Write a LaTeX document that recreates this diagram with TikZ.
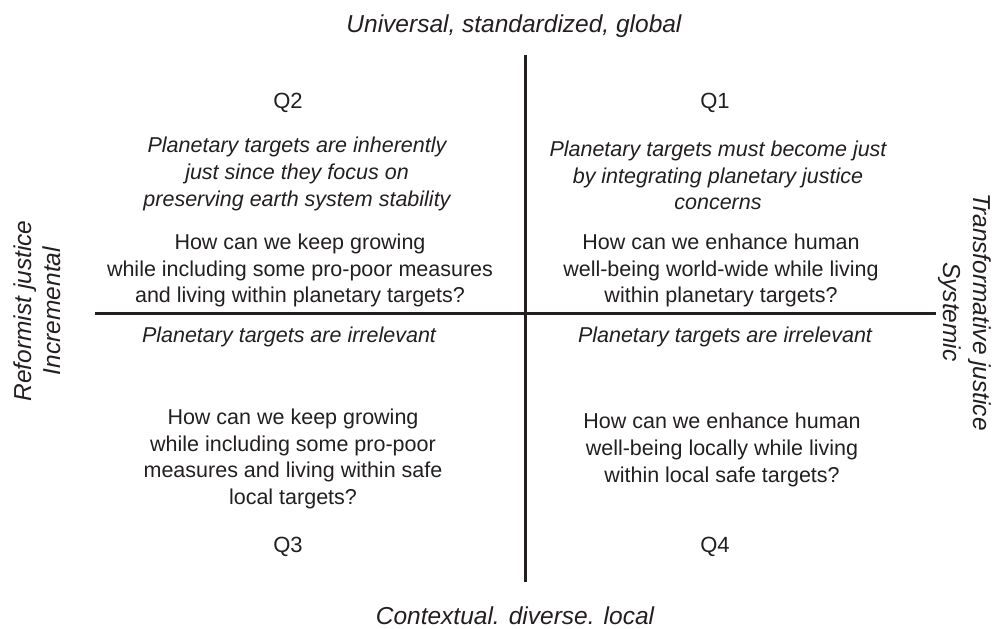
\documentclass[tikz,border=0pt]{standalone}
\usepackage{fontspec}
\setmainfont{Liberation Sans}
\definecolor{ink}{HTML}{231F20}
\begin{document}
\begin{tikzpicture}[x=1pt,y=-1pt,
  qtext/.style={align=center,inner sep=0pt,text=ink,font=\fontsize{21.5}{26.6}\selectfont},
  qital/.style={qtext,font=\fontsize{21.5}{26.6}\selectfont\itshape},
  qlabel/.style={inner sep=0pt,text=ink,font=\fontsize{22}{26}\selectfont},
  axislabel/.style={align=center,inner sep=0pt,text=ink,font=\fontsize{24.5}{29.5}\selectfont\itshape},
  axisline/.style={draw=ink,line width=3pt}]
\useasboundingbox (0,0) rectangle (996,629);
% axes
\coordinate (hl) at (95,313);
\coordinate (hr) at (936,313);
\coordinate (vt) at (525,55);
\coordinate (vb) at (525,582);
\draw[axisline] (hl) -- (hr);
\draw[axisline] (vt) -- (vb);
% axis labels
\node[axislabel] (top) at (514,26.5) {Universal, standardized, global};
\node[axislabel] (bottom) at (515,615.5) {Contextual. diverse. local};
\node[axislabel,rotate=90] (left) at (37,311) {Reformist justice\\Incremental};
\node[axislabel,rotate=-90] (right) at (965,312) {Transformative justice\\Systemic};
% quadrant labels
\node[qlabel] (q2) at (288,102.5) {Q2};
\node[qlabel] (q1) at (715,102.5) {Q1};
\node[qlabel] (q3) at (288,547) {Q3};
\node[qlabel] (q4) at (715,547) {Q4};
% Q2
\node[qital] (q2i) at (297,174) {Planetary targets are inherently\\just since they focus on\\preserving earth system stability};
\node[qtext] (q2q) at (300,270.5) {How can we keep growing\\while including some pro-poor measures\\and living within planetary targets?};
% Q1
\node[qital] (q1i) at (718,175.5) {Planetary targets must become just\\by integrating planetary justice\\concerns};
\node[qtext] (q1q) at (721,270.5) {How can we enhance human\\well-being world-wide while living\\within planetary targets?};
% Q3
\node[qital] (q3i) at (289,336.5) {Planetary targets are irrelevant};
\node[qtext] (q3q) at (293,459) {How can we keep growing\\while including some pro-poor\\measures and living within safe\\local targets?};
% Q4
\node[qital] (q4i) at (725,336.5) {Planetary targets are irrelevant};
\node[qtext] (q4q) at (722,450) {How can we enhance human\\well-being locally while living\\within local safe targets?};
\end{tikzpicture}
\end{document}
